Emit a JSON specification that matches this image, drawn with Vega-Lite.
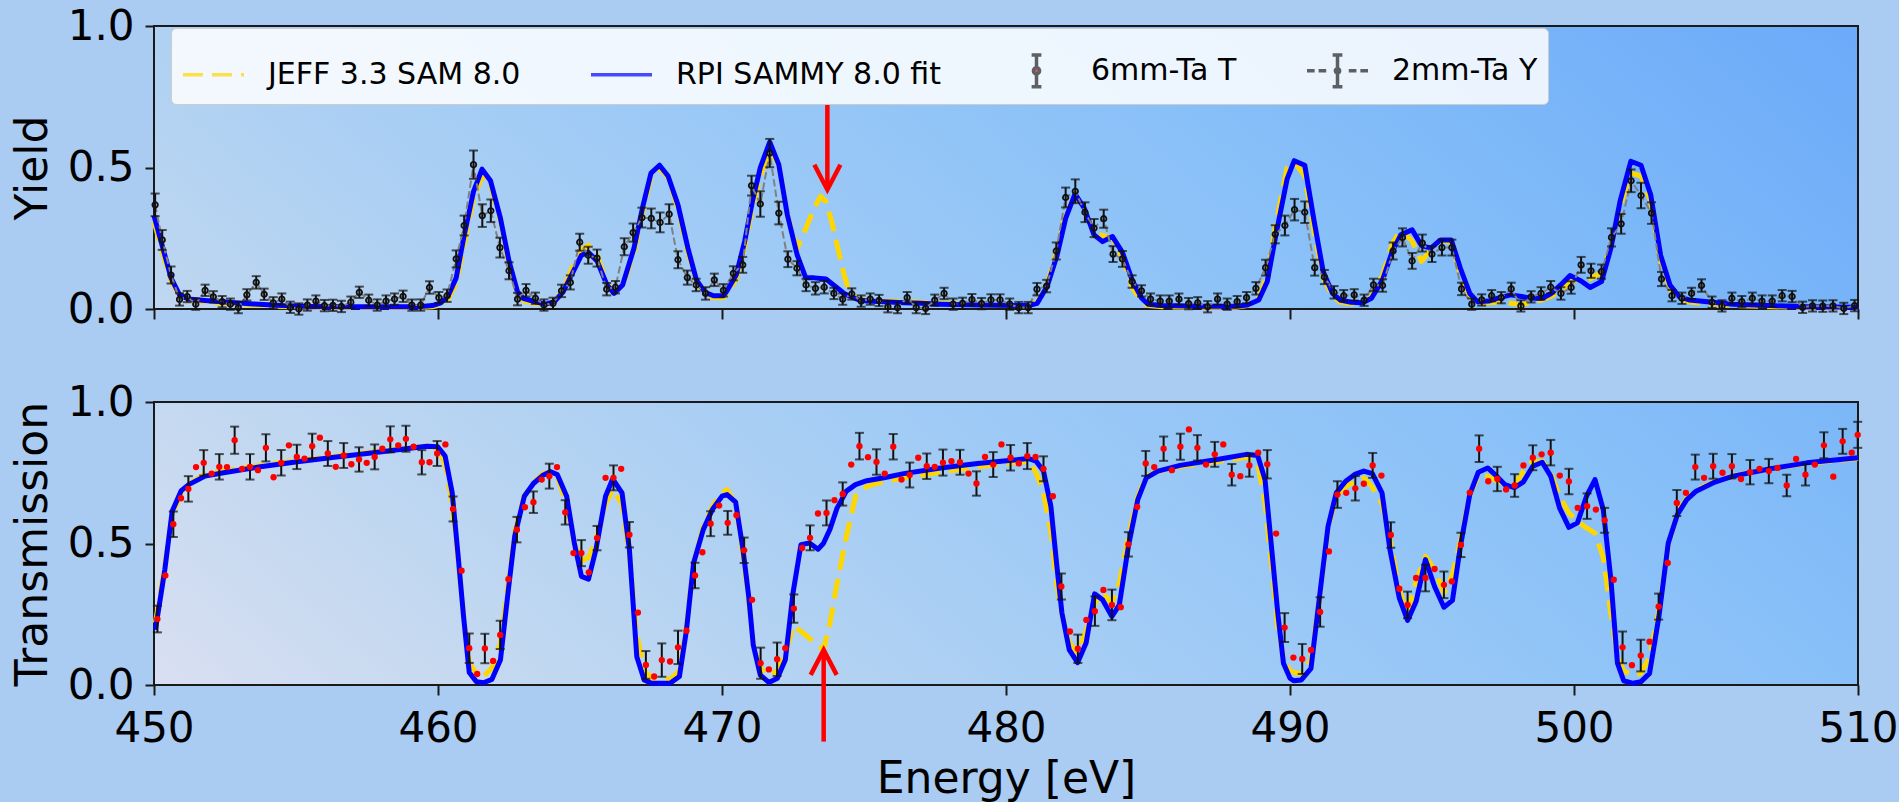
{
"$schema": "https://vega.github.io/schema/vega-lite/v6.json",
"background": "#aacbf2",
"padding": {"left": 10, "top": 4, "right": 0, "bottom": 0},
"config": {
  "font": "DejaVu Sans",
  "axis": {"labelFont": "DejaVu Sans", "labelFontSize": 42, "labelColor": "#000000", "titleFont": "DejaVu Sans", "titleFontSize": 44, "titleFontWeight": "normal", "titleColor": "#000000", "tickColor": "#1a1a1a", "tickWidth": 2, "tickSize": 10, "domain": false, "grid": false},
  "axisX": {"labelPadding": 13, "titlePadding": 8, "labelFlush": false, "labelOverlap": false},
  "axisY": {"labelPadding": 11, "titlePadding": 12, "tickSize": 9, "labelFlush": false, "labelOverlap": false},
  "view": {"stroke": "#1a1a1a", "strokeWidth": 2}
},
"datasets": {
"yd": [
{"E":450.04,"Y":0.368,"err":0.04},{"E":450.29,"Y":0.244,"err":0.035},{"E":450.6,"Y":0.12,"err":0.03},{"E":450.9,"Y":0.034,"err":0.022},{"E":451.17,"Y":0.044,"err":0.02},{"E":451.47,"Y":0.017,"err":0.02},{"E":451.8,"Y":0.066,"err":0.02},{"E":452.09,"Y":0.043,"err":0.02},{"E":452.4,"Y":0.026,"err":0.02},{"E":452.69,"Y":0.017,"err":0.02},{"E":452.97,"Y":0.005,"err":0.02},{"E":453.27,"Y":0.05,"err":0.02},{"E":453.6,"Y":0.094,"err":0.022},{"E":453.88,"Y":0.052,"err":0.02},{"E":454.2,"Y":0.022,"err":0.02},{"E":454.5,"Y":0.035,"err":0.02},{"E":454.8,"Y":0.006,"err":0.02},{"E":455.1,"Y":0.0,"err":0.02},{"E":455.4,"Y":0.014,"err":0.02},{"E":455.7,"Y":0.028,"err":0.02},{"E":456.0,"Y":0.012,"err":0.02},{"E":456.3,"Y":0.013,"err":0.02},{"E":456.6,"Y":0.009,"err":0.02},{"E":456.93,"Y":0.024,"err":0.02},{"E":457.23,"Y":0.059,"err":0.02},{"E":457.56,"Y":0.031,"err":0.02},{"E":457.86,"Y":0.014,"err":0.02},{"E":458.17,"Y":0.028,"err":0.02},{"E":458.47,"Y":0.035,"err":0.02},{"E":458.77,"Y":0.045,"err":0.02},{"E":459.08,"Y":0.014,"err":0.02},{"E":459.39,"Y":0.014,"err":0.02},{"E":459.7,"Y":0.076,"err":0.022},{"E":460.03,"Y":0.04,"err":0.02},{"E":460.32,"Y":0.047,"err":0.022},{"E":460.64,"Y":0.177,"err":0.03},{"E":460.92,"Y":0.295,"err":0.035},{"E":461.25,"Y":0.51,"err":0.05},{"E":461.56,"Y":0.33,"err":0.04},{"E":461.86,"Y":0.347,"err":0.04},{"E":462.18,"Y":0.217,"err":0.035},{"E":462.5,"Y":0.135,"err":0.03},{"E":462.8,"Y":0.035,"err":0.022},{"E":463.1,"Y":0.066,"err":0.022},{"E":463.43,"Y":0.038,"err":0.02},{"E":463.73,"Y":0.014,"err":0.02},{"E":464.05,"Y":0.02,"err":0.02},{"E":464.35,"Y":0.064,"err":0.022},{"E":464.66,"Y":0.094,"err":0.025},{"E":464.99,"Y":0.236,"err":0.03},{"E":465.29,"Y":0.19,"err":0.03},{"E":465.6,"Y":0.18,"err":0.03},{"E":465.94,"Y":0.07,"err":0.022},{"E":466.25,"Y":0.077,"err":0.022},{"E":466.56,"Y":0.22,"err":0.03},{"E":466.87,"Y":0.27,"err":0.032},{"E":467.18,"Y":0.323,"err":0.035},{"E":467.51,"Y":0.32,"err":0.035},{"E":467.82,"Y":0.306,"err":0.035},{"E":468.14,"Y":0.335,"err":0.035},{"E":468.45,"Y":0.174,"err":0.03},{"E":468.78,"Y":0.111,"err":0.025},{"E":469.09,"Y":0.085,"err":0.022},{"E":469.42,"Y":0.055,"err":0.022},{"E":469.73,"Y":0.103,"err":0.022},{"E":470.05,"Y":0.066,"err":0.022},
{"E":470.4,"Y":0.126,"err":0.025},{"E":470.73,"Y":0.156,"err":0.028},{"E":471.04,"Y":0.436,"err":0.035},{"E":471.35,"Y":0.371,"err":0.045},{"E":471.68,"Y":0.551,"err":0.05},{"E":472.0,"Y":0.339,"err":0.04},{"E":472.32,"Y":0.176,"err":0.028},{"E":472.64,"Y":0.144,"err":0.025},{"E":472.96,"Y":0.085,"err":0.022},{"E":473.29,"Y":0.073,"err":0.022},{"E":473.6,"Y":0.077,"err":0.022},{"E":473.94,"Y":0.055,"err":0.02},{"E":474.25,"Y":0.035,"err":0.02},{"E":474.57,"Y":0.053,"err":0.02},{"E":474.9,"Y":0.028,"err":0.02},{"E":475.22,"Y":0.035,"err":0.02},{"E":475.53,"Y":0.03,"err":0.02},{"E":475.84,"Y":0.008,"err":0.02},{"E":476.18,"Y":0.005,"err":0.02},{"E":476.52,"Y":0.04,"err":0.02},{"E":476.84,"Y":0.005,"err":0.02},{"E":477.17,"Y":0.002,"err":0.02},{"E":477.49,"Y":0.031,"err":0.02},{"E":477.82,"Y":0.055,"err":0.02},{"E":478.14,"Y":0.017,"err":0.02},{"E":478.47,"Y":0.02,"err":0.02},{"E":478.8,"Y":0.033,"err":0.02},{"E":479.14,"Y":0.019,"err":0.02},{"E":479.47,"Y":0.032,"err":0.02},{"E":479.79,"Y":0.032,"err":0.02},{"E":480.13,"Y":0.017,"err":0.02},{"E":480.45,"Y":0.005,"err":0.02},{"E":480.78,"Y":0.005,"err":0.02},{"E":481.09,"Y":0.07,"err":0.022},{"E":481.43,"Y":0.081,"err":0.022},{"E":481.77,"Y":0.205,"err":0.03},{"E":482.1,"Y":0.394,"err":0.035},{"E":482.44,"Y":0.416,"err":0.042},{"E":482.78,"Y":0.342,"err":0.035},{"E":483.1,"Y":0.286,"err":0.032},{"E":483.44,"Y":0.319,"err":0.032},{"E":483.77,"Y":0.194,"err":0.028},{"E":484.1,"Y":0.177,"err":0.028},{"E":484.44,"Y":0.097,"err":0.022},{"E":484.77,"Y":0.064,"err":0.02},{"E":485.09,"Y":0.035,"err":0.02},{"E":485.43,"Y":0.028,"err":0.02},{"E":485.75,"Y":0.028,"err":0.02},{"E":486.09,"Y":0.035,"err":0.02},{"E":486.43,"Y":0.019,"err":0.02},{"E":486.75,"Y":0.022,"err":0.02},{"E":487.1,"Y":0.008,"err":0.02},{"E":487.45,"Y":0.035,"err":0.02},{"E":487.79,"Y":0.017,"err":0.02},{"E":488.14,"Y":0.026,"err":0.02},{"E":488.47,"Y":0.04,"err":0.02},{"E":488.8,"Y":0.073,"err":0.022},{"E":489.14,"Y":0.146,"err":0.028},{"E":489.48,"Y":0.264,"err":0.032},{"E":489.82,"Y":0.295,"err":0.035},{"E":490.16,"Y":0.351,"err":0.038},
{"E":490.52,"Y":0.342,"err":0.038},{"E":490.87,"Y":0.146,"err":0.028},{"E":491.21,"Y":0.113,"err":0.025},{"E":491.55,"Y":0.059,"err":0.022},{"E":491.89,"Y":0.047,"err":0.02},{"E":492.26,"Y":0.05,"err":0.02},{"E":492.61,"Y":0.031,"err":0.02},{"E":492.94,"Y":0.085,"err":0.022},{"E":493.26,"Y":0.083,"err":0.022},{"E":493.63,"Y":0.205,"err":0.03},{"E":493.96,"Y":0.253,"err":0.032},{"E":494.3,"Y":0.17,"err":0.028},{"E":494.66,"Y":0.233,"err":0.03},{"E":495.0,"Y":0.194,"err":0.028},{"E":495.35,"Y":0.217,"err":0.028},{"E":495.7,"Y":0.217,"err":0.028},{"E":496.04,"Y":0.071,"err":0.022},{"E":496.4,"Y":0.017,"err":0.02},{"E":496.75,"Y":0.032,"err":0.02},{"E":497.1,"Y":0.047,"err":0.02},{"E":497.44,"Y":0.04,"err":0.02},{"E":497.79,"Y":0.071,"err":0.022},{"E":498.13,"Y":0.011,"err":0.02},{"E":498.49,"Y":0.043,"err":0.02},{"E":498.84,"Y":0.055,"err":0.022},{"E":499.18,"Y":0.077,"err":0.022},{"E":499.54,"Y":0.055,"err":0.022},{"E":499.9,"Y":0.076,"err":0.022},{"E":500.25,"Y":0.156,"err":0.028},{"E":500.6,"Y":0.135,"err":0.025},{"E":500.97,"Y":0.132,"err":0.025},{"E":501.32,"Y":0.253,"err":0.032},{"E":501.66,"Y":0.301,"err":0.035},{"E":502.01,"Y":0.453,"err":0.04},{"E":502.36,"Y":0.401,"err":0.045},{"E":502.73,"Y":0.339,"err":0.038},{"E":503.08,"Y":0.106,"err":0.025},{"E":503.45,"Y":0.047,"err":0.02},{"E":503.8,"Y":0.038,"err":0.02},{"E":504.14,"Y":0.055,"err":0.02},{"E":504.49,"Y":0.083,"err":0.022},{"E":504.86,"Y":0.024,"err":0.02},{"E":505.21,"Y":0.011,"err":0.02},{"E":505.56,"Y":0.038,"err":0.02},{"E":505.91,"Y":0.026,"err":0.02},{"E":506.28,"Y":0.038,"err":0.02},{"E":506.62,"Y":0.028,"err":0.02},{"E":506.98,"Y":0.028,"err":0.02},{"E":507.33,"Y":0.047,"err":0.02},{"E":507.68,"Y":0.044,"err":0.02},{"E":508.05,"Y":0.006,"err":0.02},{"E":508.4,"Y":0.011,"err":0.02},{"E":508.76,"Y":0.01,"err":0.02},{"E":509.12,"Y":0.011,"err":0.02},{"E":509.5,"Y":0.002,"err":0.02},{"E":509.88,"Y":0.012,"err":0.02}
],
"yf": [
{"E":450.0,"rpi":0.33,"jeff":0.31},{"E":450.3,"rpi":0.22,"jeff":0.2},{"E":450.6,"rpi":0.11,"jeff":0.1},{"E":450.9,"rpi":0.05,"jeff":0.045},{"E":451.2,"rpi":0.035,"jeff":0.032},{"E":451.8,"rpi":0.03,"jeff":0.025},{"E":452.5,"rpi":0.025,"jeff":0.02},{"E":453.5,"rpi":0.018,"jeff":0.014},{"E":454.5,"rpi":0.012,"jeff":0.009},{"E":455.5,"rpi":0.009,"jeff":0.006},{"E":456.5,"rpi":0.008,"jeff":0.005},{"E":457.5,"rpi":0.008,"jeff":0.005},{"E":458.5,"rpi":0.008,"jeff":0.005},{"E":459.3,"rpi":0.008,"jeff":0.005},{"E":459.8,"rpi":0.012,"jeff":0.008},{"E":460.1,"rpi":0.022,"jeff":0.015},{"E":460.35,"rpi":0.045,"jeff":0.035},{"E":460.64,"rpi":0.11,"jeff":0.09},{"E":460.92,"rpi":0.26,"jeff":0.23},{"E":461.25,"rpi":0.415,"jeff":0.39},{"E":461.55,"rpi":0.494,"jeff":0.47},{"E":461.85,"rpi":0.453,"jeff":0.44},{"E":462.2,"rpi":0.32,"jeff":0.31},{"E":462.5,"rpi":0.17,"jeff":0.16},{"E":462.8,"rpi":0.06,"jeff":0.055},{"E":463.0,"rpi":0.038,"jeff":0.03},{"E":463.4,"rpi":0.026,"jeff":0.02},{"E":463.8,"rpi":0.017,"jeff":0.014},{"E":464.1,"rpi":0.026,"jeff":0.024},{"E":464.4,"rpi":0.06,"jeff":0.07},{"E":464.7,"rpi":0.12,"jeff":0.14},{"E":465.05,"rpi":0.19,"jeff":0.21},{"E":465.3,"rpi":0.2,"jeff":0.225},{"E":465.6,"rpi":0.17,"jeff":0.19},{"E":465.95,"rpi":0.085,"jeff":0.09},{"E":466.2,"rpi":0.055,"jeff":0.06},{"E":466.5,"rpi":0.085,"jeff":0.08},{"E":466.9,"rpi":0.215,"jeff":0.2},{"E":467.2,"rpi":0.357,"jeff":0.34},{"E":467.5,"rpi":0.48,"jeff":0.465},{"E":467.8,"rpi":0.508,"jeff":0.5},{"E":468.1,"rpi":0.47,"jeff":0.465},{"E":468.45,"rpi":0.368,"jeff":0.355},{"E":468.8,"rpi":0.215,"jeff":0.2},{"E":469.1,"rpi":0.103,"jeff":0.095},{"E":469.4,"rpi":0.059,"jeff":0.05},{"E":469.7,"rpi":0.047,"jeff":0.04},{"E":470.05,"rpi":0.047,"jeff":0.04},{"E":470.15,"rpi":0.06,"jeff":0.05},{"E":470.5,"rpi":0.12,"jeff":0.105},{"E":470.8,"rpi":0.24,"jeff":0.22},{"E":471.07,"rpi":0.38,"jeff":0.36},{"E":471.35,"rpi":0.5,"jeff":0.47},{"E":471.68,"rpi":0.59,"jeff":0.56},{"E":472.0,"rpi":0.51,"jeff":0.51},{"E":472.3,"rpi":0.333,"jeff":0.33},{"E":472.65,"rpi":0.19,"jeff":0.215},{"E":472.95,"rpi":0.11,"jeff":0.285},{"E":473.25,"rpi":0.11,"jeff":0.357},{"E":473.47,"rpi":0.108,"jeff":0.398},{"E":473.66,"rpi":0.106,"jeff":0.38},{"E":473.86,"rpi":0.09,"jeff":0.31},{"E":474.05,"rpi":0.075,"jeff":0.227},{"E":474.3,"rpi":0.055,"jeff":0.12},{"E":474.5,"rpi":0.045,"jeff":0.055},{"E":474.8,"rpi":0.033,"jeff":0.035},{"E":475.1,"rpi":0.028,"jeff":0.03},{"E":475.7,"rpi":0.026,"jeff":0.028},{"E":476.4,"rpi":0.022,"jeff":0.026},{"E":477.0,"rpi":0.02,"jeff":0.024},{"E":477.7,"rpi":0.017,"jeff":0.02},{"E":479.0,"rpi":0.014,"jeff":0.015},{"E":480.3,"rpi":0.012,"jeff":0.012},{"E":480.8,"rpi":0.012,"jeff":0.012},{"E":481.1,"rpi":0.02,"jeff":0.025},{"E":481.45,"rpi":0.08,"jeff":0.09},{"E":481.8,"rpi":0.19,"jeff":0.21},{"E":482.1,"rpi":0.32,"jeff":0.34},{"E":482.43,"rpi":0.407,"jeff":0.4},{"E":482.75,"rpi":0.357,"jeff":0.35},{"E":483.1,"rpi":0.262,"jeff":0.27},{"E":483.4,"rpi":0.238,"jeff":0.26},{"E":483.75,"rpi":0.256,"jeff":0.25},{"E":484.1,"rpi":0.2,"jeff":0.18},{"E":484.45,"rpi":0.1,"jeff":0.075},{"E":484.78,"rpi":0.038,"jeff":0.026},{"E":485.0,"rpi":0.017,"jeff":0.012},{"E":485.5,"rpi":0.012,"jeff":0.008},{"E":486.8,"rpi":0.01,"jeff":0.006},{"E":488.1,"rpi":0.01,"jeff":0.006},{"E":488.5,"rpi":0.014,"jeff":0.012},{"E":488.9,"rpi":0.032,"jeff":0.04},{"E":489.2,"rpi":0.097,"jeff":0.12},{"E":489.5,"rpi":0.26,"jeff":0.3},{"E":489.9,"rpi":0.46,"jeff":0.5},{"E":490.15,"rpi":0.524,"jeff":0.52},{"E":490.52,"rpi":0.508,"jeff":0.47},{"E":490.85,"rpi":0.31,"jeff":0.27},{"E":491.17,"rpi":0.132,"jeff":0.11},{"E":491.5,"rpi":0.055,"jeff":0.045},{"E":491.76,"rpi":0.032,"jeff":0.025},{"E":492.15,"rpi":0.024,"jeff":0.018},{"E":492.55,"rpi":0.022,"jeff":0.02},{"E":492.87,"rpi":0.038,"jeff":0.045},{"E":493.26,"rpi":0.103,"jeff":0.12},{"E":493.6,"rpi":0.203,"jeff":0.23},{"E":493.9,"rpi":0.262,"jeff":0.28},{"E":494.3,"rpi":0.28,"jeff":0.24},{"E":494.63,"rpi":0.224,"jeff":0.168},{"E":494.96,"rpi":0.215,"jeff":0.21},{"E":495.3,"rpi":0.244,"jeff":0.244},{"E":495.68,"rpi":0.244,"jeff":0.235},{"E":496.0,"rpi":0.144,"jeff":0.12},{"E":496.33,"rpi":0.055,"jeff":0.045},{"E":496.6,"rpi":0.026,"jeff":0.02},{"E":497.0,"rpi":0.028,"jeff":0.022},{"E":497.38,"rpi":0.04,"jeff":0.025},{"E":497.77,"rpi":0.05,"jeff":0.02},{"E":498.16,"rpi":0.044,"jeff":0.015},{"E":498.5,"rpi":0.038,"jeff":0.025},{"E":498.88,"rpi":0.038,"jeff":0.032},{"E":499.2,"rpi":0.055,"jeff":0.045},{"E":499.53,"rpi":0.085,"jeff":0.065},{"E":499.86,"rpi":0.118,"jeff":0.095},{"E":500.25,"rpi":0.099,"jeff":0.108},{"E":500.57,"rpi":0.076,"jeff":0.106},{"E":500.97,"rpi":0.097,"jeff":0.13},{"E":501.3,"rpi":0.215,"jeff":0.22},{"E":501.62,"rpi":0.38,"jeff":0.36},{"E":502.0,"rpi":0.522,"jeff":0.48},{"E":502.36,"rpi":0.508,"jeff":0.47},{"E":502.7,"rpi":0.404,"jeff":0.38},{"E":503.05,"rpi":0.19,"jeff":0.17},{"E":503.38,"rpi":0.085,"jeff":0.07},{"E":503.7,"rpi":0.044,"jeff":0.035},{"E":504.05,"rpi":0.032,"jeff":0.025},{"E":504.7,"rpi":0.026,"jeff":0.018},{"E":505.6,"rpi":0.017,"jeff":0.012},{"E":506.9,"rpi":0.012,"jeff":0.008},{"E":508.2,"rpi":0.008,"jeff":0.006},{"E":510.0,"rpi":0.006,"jeff":0.004}
],
"td": [
{"E":450.12,"T":0.233,"err":0.047},{"E":450.4,"T":0.387,"err":null},{"E":450.68,"T":0.568,"err":0.045},{"E":450.95,"T":0.66,"err":null},{"E":451.21,"T":0.693,"err":0.045},{"E":451.48,"T":0.77,"err":null},{"E":451.75,"T":0.785,"err":0.045},{"E":452.03,"T":0.747,"err":null},{"E":452.3,"T":0.771,"err":0.045},{"E":452.57,"T":0.77,"err":null},{"E":452.84,"T":0.865,"err":0.048},{"E":453.1,"T":0.764,"err":null},{"E":453.38,"T":0.771,"err":0.045},{"E":453.66,"T":0.759,"err":null},{"E":453.94,"T":0.838,"err":0.048},{"E":454.21,"T":0.734,"err":null},{"E":454.48,"T":0.785,"err":0.045},{"E":454.75,"T":0.847,"err":null},{"E":455.03,"T":0.806,"err":0.043},{"E":455.3,"T":0.8,"err":null},{"E":455.57,"T":0.844,"err":0.044},{"E":455.84,"T":0.874,"err":null},{"E":456.12,"T":0.818,"err":0.044},{"E":456.4,"T":0.771,"err":null},{"E":456.68,"T":0.811,"err":0.044},{"E":456.95,"T":0.78,"err":null},{"E":457.22,"T":0.797,"err":0.043},{"E":457.49,"T":0.785,"err":null},{"E":457.77,"T":0.806,"err":0.044},{"E":458.04,"T":0.835,"err":null},{"E":458.32,"T":0.868,"err":0.046},{"E":458.6,"T":0.847,"err":null},{"E":458.87,"T":0.87,"err":0.046},{"E":459.14,"T":0.842,"err":null},{"E":459.43,"T":0.787,"err":0.043},{"E":459.7,"T":0.787,"err":null},{"E":459.97,"T":0.818,"err":0.044},{"E":460.26,"T":0.85,"err":null},{"E":460.53,"T":0.622,"err":0.044},{"E":460.83,"T":0.404,"err":null},{"E":461.1,"T":0.13,"err":0.052},{"E":461.38,"T":0.039,"err":null},{"E":461.65,"T":0.129,"err":0.052},{"E":461.94,"T":0.085,"err":null},{"E":462.19,"T":0.177,"err":0.05},{"E":462.48,"T":0.374,"err":null},{"E":462.78,"T":0.549,"err":0.045},{"E":463.06,"T":0.628,"err":null},{"E":463.36,"T":0.646,"err":0.038},{"E":463.65,"T":0.726,"err":null},{"E":463.92,"T":0.738,"err":0.044},{"E":464.19,"T":0.77,"err":null},{"E":464.48,"T":0.61,"err":0.043},{"E":464.77,"T":0.466,"err":null},{"E":465.05,"T":0.466,"err":0.046},{"E":465.31,"T":0.398,"err":null},{"E":465.6,"T":0.519,"err":0.043},{"E":465.9,"T":0.732,"err":null},{"E":466.18,"T":0.732,"err":0.044},{"E":466.45,"T":0.764,"err":null},{"E":466.74,"T":0.531,"err":0.045},{"E":467.04,"T":0.256,"err":null},{"E":467.32,"T":0.071,"err":0.049},{"E":467.61,"T":0.03,"err":null},{"E":467.88,"T":0.088,"err":0.059},{"E":468.17,"T":0.083,"err":null},{"E":468.45,"T":0.133,"err":0.059},{"E":468.75,"T":0.192,"err":null},{"E":469.05,"T":0.387,"err":0.045},{"E":469.31,"T":0.469,"err":null},{"E":469.6,"T":0.57,"err":0.044},{"E":469.9,"T":0.634,"err":null},{"E":470.2,"T":0.573,"err":0.042},
{"E":470.51,"T":0.6,"err":null},{"E":470.78,"T":0.476,"err":0.045},{"E":471.06,"T":0.301,"err":null},{"E":471.36,"T":0.077,"err":0.055},{"E":471.65,"T":0.055,"err":null},{"E":471.94,"T":0.091,"err":0.059},{"E":472.23,"T":0.13,"err":null},{"E":472.53,"T":0.27,"err":0.05},{"E":472.82,"T":0.484,"err":null},{"E":473.1,"T":0.52,"err":0.044},{"E":473.38,"T":0.606,"err":null},{"E":473.68,"T":0.608,"err":0.044},{"E":473.96,"T":0.653,"err":null},{"E":474.25,"T":0.675,"err":0.041},{"E":474.55,"T":0.779,"err":null},{"E":474.84,"T":0.844,"err":0.047},{"E":475.14,"T":0.805,"err":null},{"E":475.44,"T":0.788,"err":0.045},{"E":475.73,"T":0.747,"err":null},{"E":476.03,"T":0.842,"err":0.045},{"E":476.32,"T":0.726,"err":null},{"E":476.61,"T":0.742,"err":0.044},{"E":476.91,"T":0.803,"err":null},{"E":477.21,"T":0.773,"err":0.045},{"E":477.49,"T":0.771,"err":null},{"E":477.78,"T":0.786,"err":0.046},{"E":478.08,"T":0.791,"err":null},{"E":478.38,"T":0.787,"err":0.044},{"E":478.68,"T":0.747,"err":null},{"E":478.96,"T":0.712,"err":0.043},{"E":479.26,"T":0.806,"err":null},{"E":479.55,"T":0.779,"err":0.044},{"E":479.84,"T":0.85,"err":null},{"E":480.16,"T":0.803,"err":0.045},{"E":480.45,"T":0.783,"err":null},{"E":480.75,"T":0.809,"err":0.046},{"E":481.04,"T":0.806,"err":null},{"E":481.32,"T":0.764,"err":0.044},{"E":481.65,"T":0.667,"err":null},{"E":481.95,"T":0.348,"err":0.046},{"E":482.25,"T":0.189,"err":null},{"E":482.53,"T":0.128,"err":0.05},{"E":482.83,"T":0.23,"err":null},{"E":483.13,"T":0.261,"err":0.052},{"E":483.43,"T":0.336,"err":null},{"E":483.73,"T":0.283,"err":0.054},{"E":484.04,"T":0.275,"err":null},{"E":484.31,"T":0.497,"err":0.043},{"E":484.62,"T":0.629,"err":null},{"E":484.92,"T":0.783,"err":0.044},{"E":485.22,"T":0.77,"err":null},{"E":485.55,"T":0.835,"err":0.043},{"E":485.84,"T":0.759,"err":null},{"E":486.14,"T":0.842,"err":0.046},{"E":486.44,"T":0.903,"err":null},{"E":486.74,"T":0.838,"err":0.045},{"E":487.04,"T":0.779,"err":null},{"E":487.35,"T":0.815,"err":0.044},{"E":487.65,"T":0.85,"err":null},{"E":487.95,"T":0.743,"err":0.038},{"E":488.25,"T":0.738,"err":null},{"E":488.57,"T":0.776,"err":0.04},{"E":488.88,"T":0.821,"err":null},{"E":489.2,"T":0.78,"err":0.05},{"E":489.51,"T":0.535,"err":null},{"E":489.81,"T":0.203,"err":0.051},{"E":490.12,"T":0.097,"err":null},
{"E":490.43,"T":0.092,"err":0.053},{"E":490.74,"T":0.124,"err":null},{"E":491.06,"T":0.258,"err":0.052},{"E":491.37,"T":0.472,"err":null},{"E":491.67,"T":0.673,"err":0.047},{"E":491.98,"T":0.679,"err":null},{"E":492.3,"T":0.695,"err":0.043},{"E":492.6,"T":0.711,"err":null},{"E":492.91,"T":0.776,"err":0.044},{"E":493.22,"T":0.74,"err":null},{"E":493.55,"T":0.53,"err":0.045},{"E":493.85,"T":0.34,"err":null},{"E":494.14,"T":0.283,"err":0.047},{"E":494.44,"T":0.378,"err":null},{"E":494.77,"T":0.378,"err":0.047},{"E":495.09,"T":0.41,"err":null},{"E":495.42,"T":0.354,"err":0.047},{"E":495.7,"T":0.366,"err":null},{"E":496.02,"T":0.495,"err":0.043},{"E":496.33,"T":0.68,"err":null},{"E":496.66,"T":0.835,"err":0.047},{"E":496.98,"T":0.72,"err":null},{"E":497.3,"T":0.728,"err":0.043},{"E":497.61,"T":0.691,"err":null},{"E":497.91,"T":0.705,"err":0.04},{"E":498.22,"T":0.776,"err":null},{"E":498.55,"T":0.803,"err":0.044},{"E":498.86,"T":0.815,"err":null},{"E":499.18,"T":0.821,"err":0.045},{"E":499.5,"T":0.74,"err":null},{"E":499.82,"T":0.719,"err":0.045},{"E":500.13,"T":0.626,"err":null},{"E":500.46,"T":0.632,"err":0.045},{"E":500.77,"T":0.62,"err":null},{"E":501.08,"T":0.582,"err":0.044},{"E":501.4,"T":0.372,"err":null},{"E":501.71,"T":0.133,"err":0.056},{"E":502.04,"T":0.07,"err":null},{"E":502.35,"T":0.104,"err":0.056},{"E":502.66,"T":0.153,"err":null},{"E":502.98,"T":0.277,"err":0.046},{"E":503.3,"T":0.431,"err":null},{"E":503.62,"T":0.643,"err":0.046},{"E":503.94,"T":0.679,"err":null},{"E":504.27,"T":0.77,"err":0.044},{"E":504.58,"T":0.732,"err":null},{"E":504.9,"T":0.773,"err":0.044},{"E":505.23,"T":0.75,"err":null},{"E":505.56,"T":0.773,"err":0.043},{"E":505.88,"T":0.728,"err":null},{"E":506.2,"T":0.752,"err":0.043},{"E":506.53,"T":0.764,"err":null},{"E":506.86,"T":0.756,"err":0.043},{"E":507.17,"T":0.767,"err":null},{"E":507.49,"T":0.705,"err":0.038},{"E":507.82,"T":0.799,"err":null},{"E":508.15,"T":0.743,"err":0.038},{"E":508.48,"T":0.779,"err":null},{"E":508.8,"T":0.847,"err":0.046},{"E":509.13,"T":0.736,"err":null},{"E":509.46,"T":0.861,"err":0.044},{"E":509.78,"T":0.821,"err":null},{"E":509.99,"T":0.884,"err":0.046}
],
"tf": [
{"E":450.05,"rpi":0.195,"jeff":0.22},{"E":450.38,"rpi":0.407,"jeff":0.42},{"E":450.64,"rpi":0.614,"jeff":0.6},{"E":450.96,"rpi":0.687,"jeff":0.68},{"E":451.22,"rpi":0.708,"jeff":0.71},{"E":451.8,"rpi":0.738,"jeff":0.745},{"E":452.45,"rpi":0.75,"jeff":0.757},{"E":453.75,"rpi":0.771,"jeff":0.776},{"E":455.05,"rpi":0.789,"jeff":0.793},{"E":456.35,"rpi":0.805,"jeff":0.808},{"E":457.65,"rpi":0.82,"jeff":0.823},{"E":458.95,"rpi":0.836,"jeff":0.838},{"E":459.6,"rpi":0.844,"jeff":0.845},{"E":459.99,"rpi":0.842,"jeff":0.835},{"E":460.25,"rpi":0.809,"jeff":0.78},{"E":460.5,"rpi":0.679,"jeff":0.64},{"E":460.7,"rpi":0.466,"jeff":0.45},{"E":460.9,"rpi":0.242,"jeff":0.25},{"E":461.1,"rpi":0.044,"jeff":0.08},{"E":461.35,"rpi":0.012,"jeff":0.04},{"E":461.6,"rpi":0.008,"jeff":0.03},{"E":461.9,"rpi":0.02,"jeff":0.06},{"E":462.2,"rpi":0.089,"jeff":0.15},{"E":462.45,"rpi":0.313,"jeff":0.34},{"E":462.7,"rpi":0.525,"jeff":0.54},{"E":463.04,"rpi":0.667,"jeff":0.67},{"E":463.36,"rpi":0.712,"jeff":0.715},{"E":463.68,"rpi":0.74,"jeff":0.745},{"E":463.95,"rpi":0.754,"jeff":0.755},{"E":464.2,"rpi":0.744,"jeff":0.735},{"E":464.53,"rpi":0.667,"jeff":0.64},{"E":464.8,"rpi":0.502,"jeff":0.5},{"E":465.05,"rpi":0.384,"jeff":0.44},{"E":465.3,"rpi":0.374,"jeff":0.45},{"E":465.56,"rpi":0.478,"jeff":0.51},{"E":465.9,"rpi":0.667,"jeff":0.64},{"E":466.15,"rpi":0.728,"jeff":0.69},{"E":466.48,"rpi":0.679,"jeff":0.64},{"E":466.74,"rpi":0.478,"jeff":0.46},{"E":467.0,"rpi":0.1,"jeff":0.18},{"E":467.26,"rpi":0.018,"jeff":0.05},{"E":467.52,"rpi":0.006,"jeff":0.025},{"E":468.17,"rpi":0.006,"jeff":0.02},{"E":468.5,"rpi":0.03,"jeff":0.05},{"E":468.75,"rpi":0.195,"jeff":0.21},{"E":469.0,"rpi":0.431,"jeff":0.43},{"E":469.34,"rpi":0.549,"jeff":0.56},{"E":469.66,"rpi":0.62,"jeff":0.63},{"E":470.0,"rpi":0.667,"jeff":0.68},{"E":470.18,"rpi":0.673,"jeff":0.69},{"E":470.48,"rpi":0.646,"jeff":0.64},{"E":470.74,"rpi":0.478,"jeff":0.46},{"E":470.94,"rpi":0.313,"jeff":0.3},{"E":471.1,"rpi":0.142,"jeff":0.15},{"E":471.35,"rpi":0.035,"jeff":0.06},{"E":471.65,"rpi":0.009,"jeff":0.035},{"E":471.95,"rpi":0.024,"jeff":0.05},{"E":472.23,"rpi":0.089,"jeff":0.11},{"E":472.5,"rpi":0.325,"jeff":0.209},{"E":472.78,"rpi":0.496,"jeff":0.19},{"E":473.08,"rpi":0.502,"jeff":0.165},{"E":473.38,"rpi":0.48,"jeff":0.14},{"E":473.57,"rpi":0.5,"jeff":0.124},{"E":473.8,"rpi":0.55,"jeff":0.218},{"E":474.05,"rpi":0.625,"jeff":0.36},{"E":474.38,"rpi":0.685,"jeff":0.525},{"E":474.7,"rpi":0.708,"jeff":0.667},{"E":475.1,"rpi":0.722,"jeff":0.702},{"E":475.75,"rpi":0.733,"jeff":0.72},{"E":476.4,"rpi":0.747,"jeff":0.732},{"E":477.7,"rpi":0.767,"jeff":0.752},{"E":479.0,"rpi":0.783,"jeff":0.771},{"E":480.29,"rpi":0.795,"jeff":0.786},{"E":480.8,"rpi":0.8,"jeff":0.791},{"E":481.06,"rpi":0.791,"jeff":0.75},{"E":481.32,"rpi":0.756,"jeff":0.679},{"E":481.58,"rpi":0.632,"jeff":0.54},{"E":481.78,"rpi":0.431,"jeff":0.36},{"E":481.97,"rpi":0.254,"jeff":0.25},{"E":482.23,"rpi":0.124,"jeff":0.15},{"E":482.52,"rpi":0.079,"jeff":0.115},{"E":482.82,"rpi":0.148,"jeff":0.19},{"E":483.12,"rpi":0.322,"jeff":0.29},{"E":483.4,"rpi":0.301,"jeff":0.325},{"E":483.73,"rpi":0.242,"jeff":0.289},{"E":483.99,"rpi":0.283,"jeff":0.36},{"E":484.31,"rpi":0.49,"jeff":0.525},{"E":484.64,"rpi":0.655,"jeff":0.667},{"E":484.94,"rpi":0.732,"jeff":0.738},{"E":485.35,"rpi":0.756,"jeff":0.755},{"E":486.13,"rpi":0.776,"jeff":0.772},{"E":487.43,"rpi":0.797,"jeff":0.79},{"E":488.47,"rpi":0.815,"jeff":0.805},{"E":488.86,"rpi":0.811,"jeff":0.785},{"E":489.12,"rpi":0.726,"jeff":0.643},{"E":489.38,"rpi":0.455,"jeff":0.396},{"E":489.57,"rpi":0.254,"jeff":0.2},{"E":489.77,"rpi":0.077,"jeff":0.1},{"E":490.0,"rpi":0.024,"jeff":0.05},{"E":490.13,"rpi":0.015,"jeff":0.045},{"E":490.4,"rpi":0.018,"jeff":0.039},{"E":490.74,"rpi":0.059,"jeff":0.09},{"E":491.04,"rpi":0.313,"jeff":0.31},{"E":491.34,"rpi":0.561,"jeff":0.55},{"E":491.63,"rpi":0.679,"jeff":0.67},{"E":491.96,"rpi":0.72,"jeff":0.7},{"E":492.28,"rpi":0.744,"jeff":0.72},{"E":492.6,"rpi":0.756,"jeff":0.732},{"E":492.9,"rpi":0.747,"jeff":0.7},{"E":493.24,"rpi":0.679,"jeff":0.64},{"E":493.52,"rpi":0.478,"jeff":0.513},{"E":493.85,"rpi":0.307,"jeff":0.336},{"E":494.14,"rpi":0.228,"jeff":0.254},{"E":494.44,"rpi":0.295,"jeff":0.366},{"E":494.77,"rpi":0.443,"jeff":0.455},{"E":495.09,"rpi":0.348,"jeff":0.407},{"E":495.42,"rpi":0.275,"jeff":0.325},{"E":495.72,"rpi":0.299,"jeff":0.39},{"E":496.0,"rpi":0.49,"jeff":0.51},{"E":496.33,"rpi":0.673,"jeff":0.673},{"E":496.63,"rpi":0.752,"jeff":0.738},{"E":496.96,"rpi":0.767,"jeff":0.738},{"E":497.28,"rpi":0.738,"jeff":0.722},{"E":497.57,"rpi":0.708,"jeff":0.71},{"E":497.9,"rpi":0.697,"jeff":0.705},{"E":498.22,"rpi":0.718,"jeff":0.756},{"E":498.55,"rpi":0.773,"jeff":0.791},{"E":498.88,"rpi":0.787,"jeff":0.791},{"E":499.18,"rpi":0.738,"jeff":0.75},{"E":499.49,"rpi":0.626,"jeff":0.667},{"E":499.82,"rpi":0.557,"jeff":0.608},{"E":500.12,"rpi":0.573,"jeff":0.579},{"E":500.44,"rpi":0.667,"jeff":0.555},{"E":500.74,"rpi":0.726,"jeff":0.537},{"E":501.03,"rpi":0.62,"jeff":0.45},{"E":501.3,"rpi":0.372,"jeff":0.25},{"E":501.53,"rpi":0.077,"jeff":0.1},{"E":501.75,"rpi":0.015,"jeff":0.05},{"E":502.08,"rpi":0.006,"jeff":0.035},{"E":502.36,"rpi":0.012,"jeff":0.041},{"E":502.66,"rpi":0.041,"jeff":0.1},{"E":502.99,"rpi":0.242,"jeff":0.266},{"E":503.32,"rpi":0.502,"jeff":0.49},{"E":503.64,"rpi":0.602,"jeff":0.61},{"E":503.97,"rpi":0.655,"jeff":0.66},{"E":504.3,"rpi":0.685,"jeff":0.69},{"E":504.96,"rpi":0.717,"jeff":0.72},{"E":505.6,"rpi":0.738,"jeff":0.74},{"E":506.91,"rpi":0.764,"jeff":0.765},{"E":508.2,"rpi":0.785,"jeff":0.783},{"E":510.0,"rpi":0.803,"jeff":0.8}
]
},
"spacing": 93,
"bounds": "flush",
"resolve": {"scale": {"color": "independent", "shape": "independent", "strokeDash": "independent", "fill": "independent"}, "legend": {"color": "independent", "shape": "independent", "strokeDash": "independent", "fill": "independent"}},
"vconcat": [
{
  "width": 1704, "height": 283,
  "view": {"stroke": "#1a1a1a", "strokeWidth": 2, "fill": {"gradient": "linear", "x1": -0.598, "y1": 0.1155, "x2": 1.002, "y2": -0.193, "stops": [{"offset": 0, "color": "#ece4f4"}, {"offset": 0.2, "color": "#c8daf0"}, {"offset": 0.35, "color": "#b2d2f2"}, {"offset": 0.5, "color": "#9ecaf6"}, {"offset": 0.7, "color": "#88c0f8"}, {"offset": 0.85, "color": "#78b4f8"}, {"offset": 1, "color": "#6aa8fa"}]}},
  "encoding": {"x": {"field": "E", "type": "quantitative", "scale": {"domain": [450, 510], "nice": false, "zero": false}, "axis": {"values": [450, 460, 470, 480, 490, 500, 510], "labels": false, "title": null}}},
  "layer": [
    {"data": {"name": "yf"}, "mark": {"type": "line", "strokeWidth": 5, "strokeDash": [20, 9], "strokeJoin": "round"},
     "encoding": {
       "y": {"field": "jeff", "type": "quantitative", "title": "Yield", "scale": {"domain": [0, 1], "nice": false, "zero": false}, "axis": {"values": [0, 0.5, 1], "format": ".1f", "title": "Yield"}},
       "color": {"datum": "JEFF 3.3 SAM 8.0", "type": "nominal",
         "scale": {"domain": ["JEFF 3.3 SAM 8.0", "RPI SAMMY 8.0 fit", "6mm-Ta T", "2mm-Ta Y"], "range": ["#ffd700", "#0000ff", "#222222", "#222222"]},
         "legend": {"orient": "none", "legendX": 17, "legendY": 2, "direction": "horizontal", "columns": 4, "title": null,
           "fillColor": "rgba(255,255,255,0.85)", "strokeColor": "#cccccc", "cornerRadius": 5, "padding": 10,
           "labelFont": "DejaVu Sans", "labelFontSize": 30, "labelColor": "#000000", "labelOffset": 22, "labelLimit": 600,
           "symbolSize": 3721, "symbolStrokeWidth": 3.5, "symbolOpacity": 1, "columnPadding": 63}
       }
     }},
    {"data": {"name": "yf"}, "mark": {"type": "line", "strokeWidth": 5, "strokeJoin": "round"},
     "encoding": {"y": {"field": "rpi", "type": "quantitative", "title": "Yield"}, "color": {"datum": "RPI SAMMY 8.0 fit", "type": "nominal"}}},
    {"data": {"values": []}, "mark": {"type": "point", "filled": false},
     "encoding": {
       "color": {"datum": "2mm-Ta Y", "type": "nominal"},
       "fill": {"datum": "2mm-Ta Y", "type": "nominal", "scale": {"domain": ["JEFF 3.3 SAM 8.0", "RPI SAMMY 8.0 fit", "6mm-Ta T", "2mm-Ta Y"], "range": ["transparent", "transparent", "#ff0000", "#222222"]}},
       "shape": {"datum": "2mm-Ta Y", "type": "nominal", "scale": {"domain": ["JEFF 3.3 SAM 8.0", "RPI SAMMY 8.0 fit", "6mm-Ta T", "2mm-Ta Y"], "range": ["stroke", "stroke", "M0,-0.52L0,-0.13M0,0.13L0,0.52M-0.16,-0.52L0.16,-0.52M-0.16,0.52L0.16,0.52M0.1,0A0.1,0.1,0,1,1,-0.1,0A0.1,0.1,0,1,1,0.1,0Z", "M-1,0L-0.75,0M-0.62,0L-0.37,0M0.37,0L0.62,0M0.75,0L1,0M0,-0.52L0,0.52M-0.16,-0.52L0.16,-0.52M-0.16,0.52L0.16,0.52M0.07,0A0.07,0.07,0,1,1,-0.07,0A0.07,0.07,0,1,1,0.07,0Z"]}},
       "strokeDash": {"datum": "2mm-Ta Y", "type": "nominal", "scale": {"domain": ["JEFF 3.3 SAM 8.0", "RPI SAMMY 8.0 fit", "6mm-Ta T", "2mm-Ta Y"], "range": [[20, 9], [1, 0], [1, 0], [1, 0]]}}
     }},
    {"data": {"name": "yd"}, "mark": {"type": "line", "color": "#808080", "strokeWidth": 2, "strokeDash": [7.4, 3.2]},
     "encoding": {"y": {"field": "Y", "type": "quantitative", "title": "Yield"}}},
    {"data": {"name": "yd"}, "mark": {"type": "errorbar", "color": "#111111", "thickness": 2, "ticks": {"size": 9, "thickness": 2, "color": "#111111"}},
     "encoding": {"y": {"field": "Y", "type": "quantitative", "title": "Yield"}, "yError": {"field": "err"}}},
    {"data": {"name": "yd"}, "mark": {"type": "point", "filled": false, "stroke": "#111111", "strokeWidth": 1.8, "size": 30, "opacity": 1},
     "encoding": {"y": {"field": "Y", "type": "quantitative", "title": "Yield"}}},
    {"data": {"values": [{"E": 473.71, "top": 0.7225, "tip": 0.4215}]}, "mark": {"type": "rule", "color": "#ff0000", "strokeWidth": 4.5},
     "encoding": {"y": {"field": "top", "type": "quantitative", "title": "Yield"}, "y2": {"field": "tip"}}},
    {"data": {"values": [{"E": 473.71, "top": 0.7225, "tip": 0.4215}]}, "mark": {"type": "point", "shape": "M-0.52,-1L0,0L0.52,-1", "filled": false, "stroke": "#ff0000", "strokeWidth": 4.5, "size": 2500, "opacity": 1},
     "encoding": {"y": {"field": "tip", "type": "quantitative", "title": "Yield"}}}
  ]
},
{
  "width": 1704, "height": 283,
  "view": {"stroke": "#1a1a1a", "strokeWidth": 2, "fill": {"gradient": "linear", "x1": -0.351, "y1": 0.068, "x2": 1.249, "y2": -0.241, "stops": [{"offset": 0, "color": "#ece4f4"}, {"offset": 0.2, "color": "#c8daf0"}, {"offset": 0.35, "color": "#b2d2f2"}, {"offset": 0.5, "color": "#9ecaf6"}, {"offset": 0.7, "color": "#88c0f8"}, {"offset": 0.85, "color": "#78b4f8"}, {"offset": 1, "color": "#6aa8fa"}]}},
  "encoding": {"x": {"field": "E", "type": "quantitative", "scale": {"domain": [450, 510], "nice": false, "zero": false}, "axis": {"values": [450, 460, 470, 480, 490, 500, 510], "format": "d", "title": "Energy [eV]"}}},
  "layer": [
    {"data": {"name": "tf"}, "mark": {"type": "line", "color": "#ffd700", "strokeWidth": 5, "strokeDash": [20, 9], "strokeJoin": "round"},
     "encoding": {"y": {"field": "jeff", "type": "quantitative", "title": "Transmission", "scale": {"domain": [0, 1], "nice": false, "zero": false}, "axis": {"values": [0, 0.5, 1], "format": ".1f", "title": "Transmission"}}}},
    {"data": {"name": "tf"}, "mark": {"type": "line", "color": "#0000ff", "strokeWidth": 5, "strokeJoin": "round"},
     "encoding": {"y": {"field": "rpi", "type": "quantitative", "title": "Transmission"}}},
    {"data": {"name": "td"}, "transform": [{"filter": "isValid(datum.err)"}], "mark": {"type": "errorbar", "color": "#111111", "thickness": 2, "ticks": {"size": 9, "thickness": 2, "color": "#111111"}},
     "encoding": {"y": {"field": "T", "type": "quantitative", "title": "Transmission"}, "yError": {"field": "err"}}},
    {"data": {"name": "td"}, "mark": {"type": "point", "filled": true, "color": "#ff0000", "size": 40, "opacity": 1},
     "encoding": {"y": {"field": "T", "type": "quantitative", "title": "Transmission"}}},
    {"data": {"values": [{"E": 473.58, "bottom": -0.2, "tip": 0.124}]}, "mark": {"type": "rule", "color": "#ff0000", "strokeWidth": 4.5},
     "encoding": {"y": {"field": "bottom", "type": "quantitative", "title": "Transmission"}, "y2": {"field": "tip"}}},
    {"data": {"values": [{"E": 473.58, "bottom": -0.2, "tip": 0.124}]}, "mark": {"type": "point", "shape": "M-0.52,1L0,0L0.52,1", "filled": false, "stroke": "#ff0000", "strokeWidth": 4.5, "size": 2500, "opacity": 1},
     "encoding": {"y": {"field": "tip", "type": "quantitative", "title": "Transmission"}}}
  ]
}
]
}
